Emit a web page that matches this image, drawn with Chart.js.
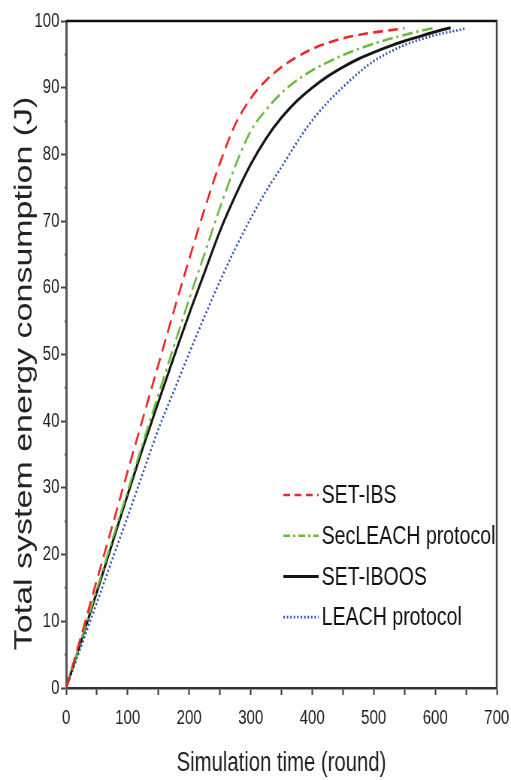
<!DOCTYPE html>
<html><head><meta charset="utf-8">
<script src="https://cdn.jsdelivr.net/npm/chart.js@4.4.1/dist/chart.umd.min.js"></script>
<style>
html,body{margin:0;padding:0;background:#fff;overflow:hidden;}
#wrap{width:511px;height:780px;overflow:hidden;position:relative;}
#c{position:absolute;left:0;top:0;transform:scaleX(0.7515);transform-origin:0 0;}
</style></head><body>
<div id="wrap"><canvas id="c" width="680" height="780"></canvas></div>
<script>
// ---- data ----
const rounds = [0,25,50,75,100,125,150,175,200,225,250,275,300,325,350,375,400,425,450,475,500,525,550,575,600,625,650];
const setIBS   = [0,8,16.2,24.3,32.5,40.5,48.5,56.5,64.3,71.8,78.7,84.5,88.4,91.1,93.1,94.6,95.8,96.7,97.4,97.9,98.3,98.6,98.9];
const secLEACH = [0,7.4,14.8,22.2,29.5,36.8,44,51.2,58.3,65.1,72,78.3,83.5,86.7,89.2,91.1,92.6,93.8,94.9,95.8,96.6,97.3,97.9,98.5,99];
const setIBOOS = [0,7.2,14.4,21.7,29,36.1,42.9,49.6,56.1,62.3,68.5,73.8,78.5,82.4,85.5,88,90,91.7,93.1,94.3,95.3,96.2,97,97.7,98.4,99];
const leach    = [0,6.4,12.8,19.3,25.7,32.3,38.8,44.5,50.2,55.7,61,65.9,70.4,74.5,78.1,81.8,85.1,87.8,90.1,92.2,94,95.3,96.4,97.2,97.9,98.4,98.9];
const seriesNames = ['SET-IBS','SecLEACH protocol','SET-IBOOS','LEACH protocol'];
const xTickLabels = [0,100,200,300,400,500,600,700];
const yTickLabels = [0,10,20,30,40,50,60,70,80,90,100];
const xTitle = 'Simulation time (round)';
const yTitle = 'Total system energy consumption (J)';

const NARROW = '"Liberation Sans Narrow","Arial Narrow","Liberation Sans",Arial,sans-serif';
const SANS = '"Liberation Sans",Arial,sans-serif';

const pts = arr => arr.map((v,i)=>({x:rounds[i], y:v}));

const styles = [
  {color:'#ee2427', width:2.6, dash:[13,7]},
  {color:'#66bb3c', width:2.6, dash:[14,5,3,5]},
  {color:'#151515', width:3.0, dash:[]},
  {color:'#2f4fb0', width:2.6, dash:[2,2.6]}
];
const seriesData = [setIBS, secLEACH, setIBOOS, leach];

const datasets = seriesData.map((d,i)=>({
  label: seriesNames[i],
  data: pts(d),
  borderColor: styles[i].color,
  borderWidth: styles[i].width,
  borderDash: styles[i].dash,
  fill:false,
  pointRadius:0,
  cubicInterpolationMode:'monotone'
}));

const framePlugin = {
  id:'frame',
  afterDraw(chart){
    const {ctx, chartArea:a} = chart;
    ctx.save();
    ctx.setLineDash([]);
    ctx.strokeStyle='#111'; ctx.lineWidth=2.6;
    ctx.beginPath(); ctx.moveTo(a.left,a.top); ctx.lineTo(a.right+1,a.top); ctx.stroke();
    ctx.strokeStyle='#444'; ctx.lineWidth=2.4;
    ctx.beginPath(); ctx.moveTo(a.right,a.top); ctx.lineTo(a.right,a.bottom); ctx.stroke();
    // legend
    const x0 = a.left + 289, x1 = a.left + 336, tx = a.left + 340;
    const y0 = a.bottom - 193, gap = 40.7;
    chart.data.datasets.forEach((ds,i)=>{
      const y = y0 + i*gap;
      ctx.strokeStyle = ds.borderColor;
      ctx.lineWidth = ds.borderWidth;
      ctx.setLineDash(i===0?[9,6]:(i===1?[9,4,3,4]:ds.borderDash));
      ctx.beginPath(); ctx.moveTo(x0,y); ctx.lineTo(x1,y); ctx.stroke();
      ctx.setLineDash([]);
      ctx.fillStyle='#111';
      ctx.font = '26px ' + NARROW;
      ctx.textBaseline='middle'; ctx.textAlign='left';
      ctx.fillText(ds.label, tx, y+1);
    });
    ctx.restore();
  }
};

const isMinorY = c => c.tick && (c.tick.value % 10 !== 0);

new Chart(document.getElementById('c'), {
  type:'line',
  data:{datasets},
  plugins:[framePlugin],
  options:{
    responsive:false, animation:false, devicePixelRatio:1,
    layout:{padding:{top:21,right:19,left:0,bottom:0}},
    plugins:{legend:{display:false}, tooltip:{enabled:false}},
    scales:{
      x:{
        type:'linear', min:0, max:700,
        afterFit(s){ s.height = 92; s.paddingRight = 0; s.paddingLeft = 0; },
        border:{display:true, color:'#333', width:2.5},
        grid:{drawOnChartArea:false, drawTicks:true, tickLength:7, tickColor:'#333', tickWidth:2},
        ticks:{stepSize:50, autoSkip:false, maxRotation:0, padding:11, color:'#222',
          font:{family:NARROW, size:20},
          callback:v=> xTickLabels.includes(v) ? String(v) : ''},
        title:{display:true, text:xTitle, color:'#222', font:{family:NARROW, size:27}, padding:{top:0,bottom:0}}
      },
      y:{
        type:'linear', min:0, max:100,
        afterFit(s){ s.width = 88; },
        border:{display:true, color:'#555', width:3},
        grid:{drawOnChartArea:false, drawTicks:true, tickLength:7, tickColor:'#444', tickWidth:2,
          tickBorderDash: c => isMinorY(c) ? [3,5] : [],
          tickBorderDashOffset: c => isMinorY(c) ? 3 : 0},
        ticks:{stepSize:5, autoSkip:false, padding:2, color:'#222',
          font:{family:NARROW, size:20},
          callback:v=> yTickLabels.includes(v) ? String(v) : ''},
        title:{display:true, text:yTitle + '    ', color:'#222', font:{family:SANS, size:34}, padding:{top:12,bottom:0}}
      }
    }
  }
});
</script>
</body></html>
